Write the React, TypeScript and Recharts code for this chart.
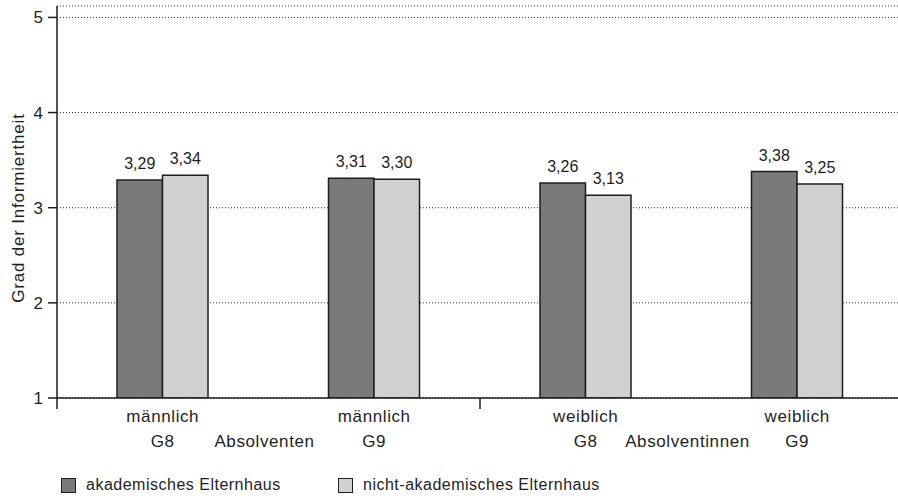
import React from "react";
import { BarChart, Bar, XAxis, YAxis, CartesianGrid, LabelList, Legend } from "recharts";

const genders = ["männlich", "männlich", "weiblich", "weiblich"];
const schools = ["G8", "G9", "G8", "G9"];
const groupLabels = ["Absolventen", "Absolventinnen"];
const akademisch = [3.29, 3.31, 3.26, 3.38];
const nichtAkademisch = [3.34, 3.3, 3.13, 3.25];
const yTicks = [1, 2, 3, 4, 5];
const yTitle = "Grad der Informiertheit";
const seriesNames = ["akademisches Elternhaus", "nicht-akademisches Elternhaus"];

const data = genders.map((g, i) => ({
  name: `${g} ${schools[i]}`,
  akad: akademisch[i],
  nicht: nichtAkademisch[i],
}));

const FONT = "'Liberation Sans', Arial, sans-serif";
const INK = "#1e1e1e";
const DARK = "#7a7a78";
const LIGHT = "#d0d2d0";
const BAND = 846 / 4;

const fmt = (v: number) => v.toFixed(2).replace(".", ",");

function CategoryTick(props: any) {
  const { x, y, index } = props;
  const textStyle = { fontFamily: FONT, fontSize: 17, letterSpacing: 0.6, fill: INK };
  return (
    <g>
      {index % 2 === 0 && (
        <line x1={x - BAND / 2} x2={x - BAND / 2} y1={y} y2={y + 11} stroke={INK} strokeWidth={1.5} />
      )}
      <text x={x} y={y + 24} textAnchor="middle" style={textStyle}>
        {genders[index]}
      </text>
      <text x={x} y={y + 49} textAnchor="middle" style={textStyle}>
        {schools[index]}
      </text>
      {index % 2 === 0 && (
        <text x={x + BAND / 2 - 4} y={y + 49} textAnchor="middle" style={textStyle}>
          {groupLabels[index / 2]}
        </text>
      )}
    </g>
  );
}

function YTitle(props: any) {
  const vb = props.viewBox || { y: 6, height: 392 };
  const cy = vb.y + vb.height / 2 + 6;
  return (
    <text
      x={18}
      y={cy}
      transform={`rotate(-90 18 ${cy})`}
      textAnchor="middle"
      dominantBaseline="central"
      style={{ fontFamily: FONT, fontSize: 17, letterSpacing: 0.8, fill: INK }}
    >
      {yTitle}
    </text>
  );
}

function LegendBox() {
  const items = [
    { name: seriesNames[0], fill: DARK, left: 61 },
    { name: seriesNames[1], fill: LIGHT, left: 338 },
  ];
  return (
    <div style={{ position: "relative", height: 22, width: 898 }}>
      {items.map((it) => (
        <div
          key={it.name}
          style={{
            position: "absolute",
            left: it.left,
            top: 0,
            display: "flex",
            alignItems: "center",
            fontFamily: FONT,
            fontSize: 16,
            letterSpacing: 0.5,
            color: INK,
            whiteSpace: "nowrap",
          }}
        >
          <span
            style={{
              display: "inline-block",
              width: 13,
              height: 13,
              background: it.fill,
              border: `1.5px solid ${INK}`,
              marginRight: 10,
            }}
          />
          {it.name}
        </div>
      ))}
    </div>
  );
}

export default function App() {
  return (
    <div style={{ position: "absolute", left: 0, top: 0, width: 898, height: 496, overflow: "hidden", background: "#fff" }}>
      <BarChart
        width={903}
        height={496}
        data={data}
        margin={{ top: 6, right: 0, left: 0, bottom: 0 }}
        barGap={0}
        style={{ fontFamily: FONT }}
      >
        <CartesianGrid vertical={false} stroke="#333" strokeDasharray="1 2" />
        <XAxis
          dataKey="name"
          height={98}
          tickLine={false}
          tickSize={0}
          tickMargin={0}
          interval={0}
          axisLine={{ stroke: INK, strokeWidth: 1.5 }}
          tick={<CategoryTick />}
        />
        <YAxis
          width={57}
          domain={[1, 5.12]}
          ticks={yTicks}
          allowDataOverflow
          tickSize={9}
          tickMargin={5}
          axisLine={{ stroke: INK, strokeWidth: 1.5 }}
          tickLine={{ stroke: INK, strokeWidth: 1.5 }}
          tick={{ fill: INK, fontSize: 17, fontFamily: FONT }}
          label={<YTitle />}
        />
        <Legend
          layout="horizontal"
          verticalAlign="middle"
          align="center"
          wrapperStyle={{ left: 0, top: 476, width: 898 }}
          content={() => <LegendBox />}
        />
        <Bar dataKey="akad" name={seriesNames[0]} fill={DARK} stroke={INK} strokeWidth={1.5} barSize={45.5} isAnimationActive={false}>
          <LabelList dataKey="akad" position="top" offset={11} formatter={(v: any) => fmt(Number(v))} style={{ fill: INK, fontSize: 16, fontFamily: FONT }} />
        </Bar>
        <Bar dataKey="nicht" name={seriesNames[1]} fill={LIGHT} stroke={INK} strokeWidth={1.5} barSize={45.5} isAnimationActive={false}>
          <LabelList dataKey="nicht" position="top" offset={11} formatter={(v: any) => fmt(Number(v))} style={{ fill: INK, fontSize: 16, fontFamily: FONT }} />
        </Bar>
      </BarChart>
    </div>
  );
}
